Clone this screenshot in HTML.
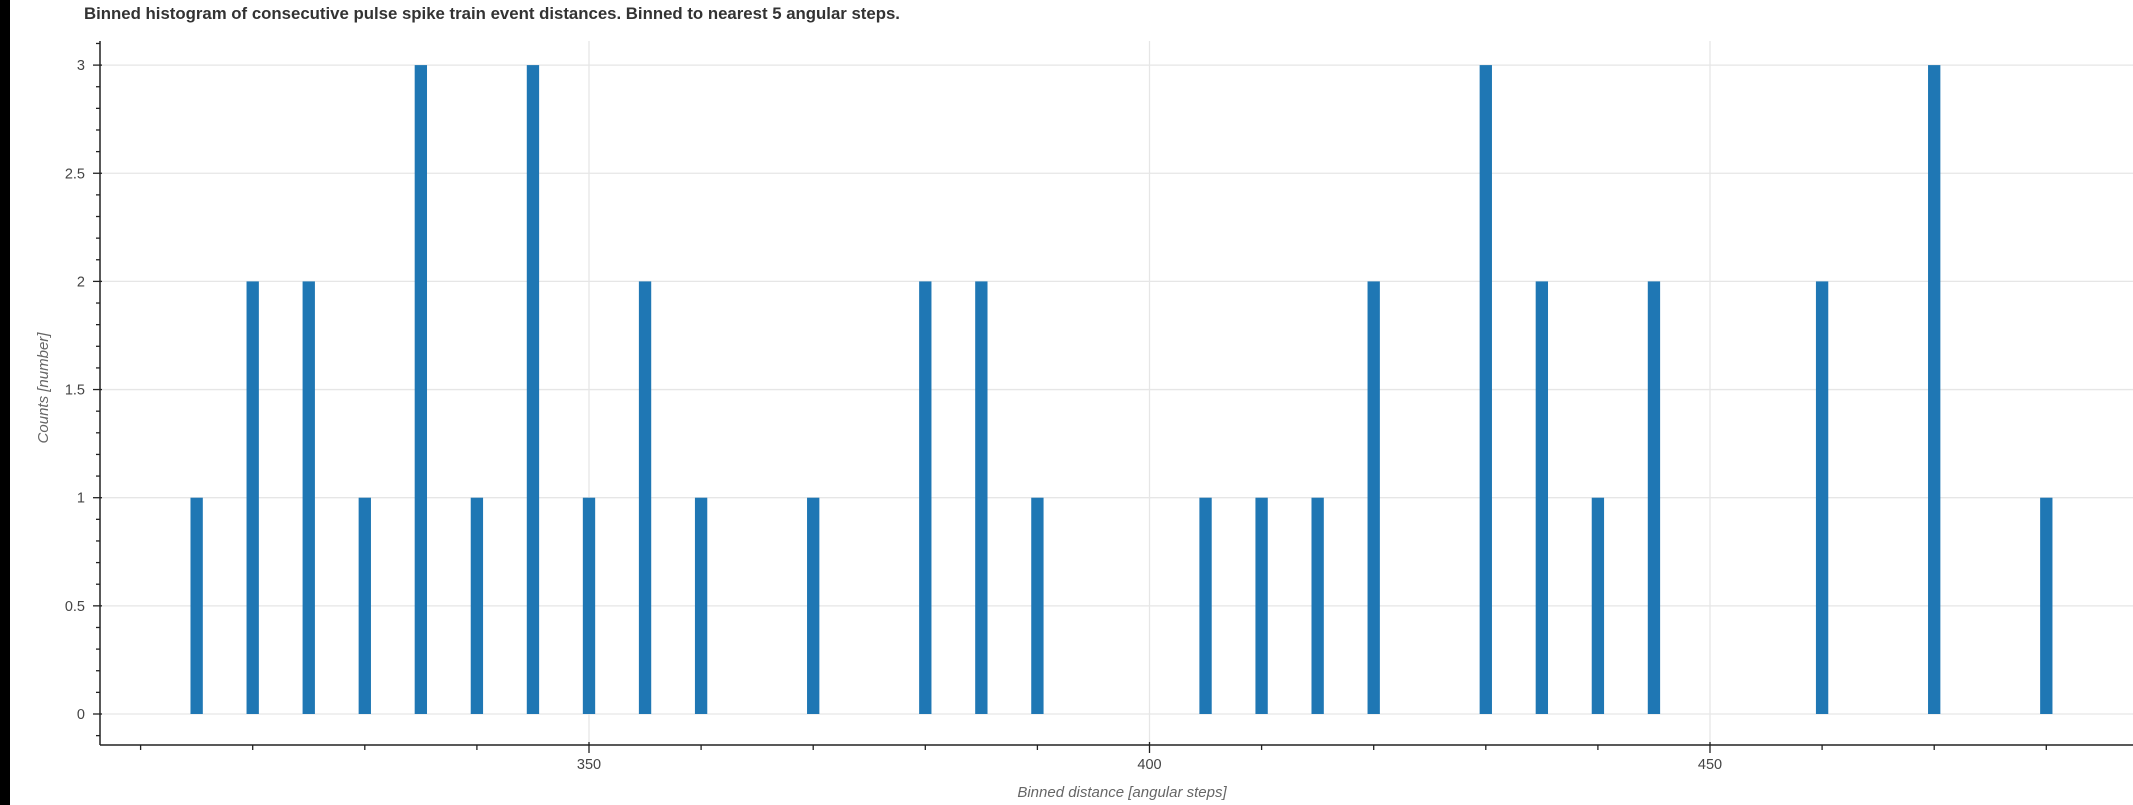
<!DOCTYPE html>
<html><head><meta charset="utf-8">
<style>
html,body{margin:0;padding:0;background:#fff;}
svg{display:block;font-family:"Liberation Sans",sans-serif;}
</style></head>
<body>
<svg id="chart" width="2133" height="805" viewBox="0 0 2133 805" xmlns="http://www.w3.org/2000/svg">
<rect x="0" y="0" width="2133" height="805" fill="#fff"/>
<rect x="0" y="0" width="10" height="805" fill="#000"/>
<text x="84" y="19" font-size="16.8" font-weight="bold" fill="#333">Binned histogram of consecutive pulse spike train event distances. Binned to nearest 5 angular steps.</text>
<g id="grid"></g>
<g id="bars"></g>
<g id="axes"></g>
<text x="1122" y="797" font-size="15" font-style="italic" fill="#666" text-anchor="middle">Binned distance [angular steps]</text>
<text transform="translate(48,388) rotate(-90)" font-size="15" font-style="italic" fill="#666" text-anchor="middle">Counts [number]</text>
</svg>
<script>
const categories = [315,320,325,330,335,340,345,350,355,360,370,380,385,390,405,410,415,420,430,435,440,445,460,470,480];
const counts = [1,2,2,1,3,1,3,1,2,1,1,2,2,1,1,1,1,2,3,2,1,2,2,3,1];
const xTickLabels = [350,400,450];
const yTickLabels = [0,0.5,1,1.5,2,2.5,3];

const NS = "http://www.w3.org/2000/svg";
const plotL = 100, plotR = 2133, plotT = 41, plotB = 745;
const x0 = 589, pxPerUnit = 11.21;
function xs(v){ return x0 + (v - 350) * pxPerUnit; }
const y0 = 714, pxPerCount = 216.3;
function ys(v){ return y0 - v * pxPerCount; }
function mk(tag, attrs, parent){
  const e = document.createElementNS(NS, tag);
  for (const k in attrs) e.setAttribute(k, attrs[k]);
  parent.appendChild(e);
  return e;
}
const grid = document.getElementById('grid');
const bars = document.getElementById('bars');
const axes = document.getElementById('axes');

yTickLabels.forEach(v => {
  const l = mk('line', {x1: plotL, x2: plotR, y1: ys(v), y2: ys(v), stroke: '#e6e6e6', 'stroke-width': 1.3}, grid);
  
  
});
xTickLabels.forEach(v => {
  const l = mk('line', {x1: xs(v), x2: xs(v), y1: plotT, y2: plotB, stroke: '#e6e6e6', 'stroke-width': 1.3}, grid);
  
  
});

const bw = 1.1 * pxPerUnit;
categories.forEach((c, i) => {
  const r = mk('rect', {x: xs(c) - bw/2, y: ys(counts[i]), width: bw, height: ys(0) - ys(counts[i]), fill: '#1f77b4'}, bars);
  
  
});

let a = mk('line', {x1: plotL, x2: plotL, y1: plotT, y2: plotB, stroke: '#222', 'stroke-width': 1.5}, axes);


a = mk('line', {x1: plotL, x2: plotR, y1: plotB, y2: plotB, stroke: '#222', 'stroke-width': 1.5}, axes);



for (let k = -1; k <= 31; k++) {
  const v = k / 10;
  const y = ys(v);
  if (y < plotT || y > plotB) continue;
  const major = k % 5 === 0;
  const t = mk('line', {x1: plotL - (major ? 7 : 4), x2: plotL + (major ? 2 : 0), y1: y, y2: y, stroke: '#222', 'stroke-width': 1.3}, axes);
  
  
}
yTickLabels.forEach(v => {
  const t = mk('text', {x: 85, y: ys(v) + 5, 'font-size': 14.5, fill: '#444', 'text-anchor': 'end'}, axes);
  t.textContent = String(v);
  
  
});
for (let v = 310; v <= 480; v += 10) {
  const major = v % 50 === 0;
  const t = mk('line', {x1: xs(v), x2: xs(v), y1: plotB - (major ? 3 : 0), y2: plotB + (major ? 8 : 5), stroke: '#222', 'stroke-width': 1.3}, axes);
  
  
}
xTickLabels.forEach(v => {
  const t = mk('text', {x: xs(v), y: 769, 'font-size': 14.5, fill: '#444', 'text-anchor': 'middle'}, axes);
  t.textContent = String(v);
  
  
});
</script>
</body></html>
